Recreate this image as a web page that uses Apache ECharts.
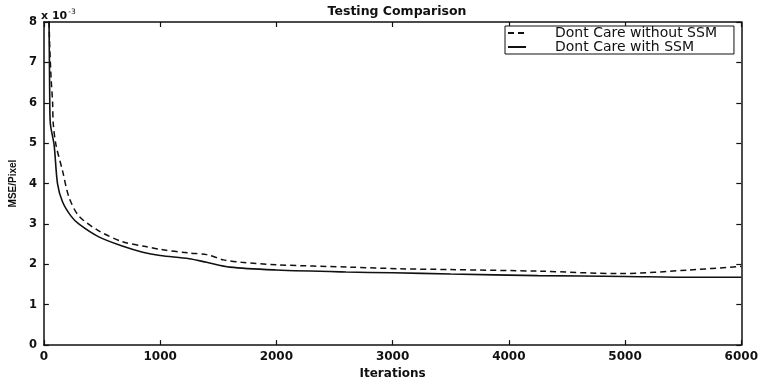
<!DOCTYPE html>
<html>
<head>
<meta charset="utf-8">
<script src="https://cdn.jsdelivr.net/npm/echarts@6/dist/echarts.min.js"></script>
<style>
  html, body { margin: 0; padding: 0; background: #fff; }
  #chart { width: 761px; height: 385px; }
</style>
</head>
<body>
<div id="chart"></div>
<script>
// MSE/Pixel values are in units of 1e-3
const iterWithout = [38, 48, 62, 75, 80, 103, 160, 215, 300, 472, 675, 875, 1000, 1250, 1400, 1545, 1700, 2000, 2635, 3065, 3500, 4266, 4953, 5554, 6000];
const mseWithout = [9.5, 7.6, 6.6, 6.0, 5.5, 4.97, 4.32, 3.67, 3.2, 2.83, 2.56, 2.44, 2.37, 2.28, 2.24, 2.11, 2.05, 1.99, 1.93, 1.89, 1.87, 1.83, 1.77, 1.86, 1.95];

const iterWith = [40, 50, 55, 88, 117, 160, 232, 300, 472, 687, 850, 1000, 1250, 1400, 1600, 2000, 2600, 3000, 3500, 4250, 5000, 5550, 6000];
const mseWith = [9.5, 6.2, 5.5, 4.95, 4.0, 3.55, 3.2, 3.0, 2.68, 2.44, 2.3, 2.22, 2.14, 2.05, 1.93, 1.86, 1.81, 1.79, 1.76, 1.72, 1.70, 1.68, 1.68];

const seriesNames = ['Dont Care without SSM', 'Dont Care with SSM'];

function pairs(xs, ys) {
  return xs.map((x, i) => [x, ys[i]]);
}

const chartDom = document.getElementById('chart');
const myChart = echarts.init(chartDom, null, { renderer: 'canvas' });

const ink = '#111';
const font = 'DejaVu Sans';

const axisCommon = {
  axisLine: { show: true, onZero: false, lineStyle: { color: ink, width: 1.5 } },
  axisTick: { show: true, inside: true, length: 5, lineStyle: { color: ink, width: 1.2 } },
  splitLine: { show: false }
};

const option = {
  animation: false,
  backgroundColor: '#fff',
  title: {
    text: 'Testing Comparison',
    left: 392,
    textAlign: 'center',
    top: 0,
    textStyle: { fontFamily: font, fontWeight: 'bold', fontSize: 12.5, color: ink }
  },
  grid: { left: 43, right: 19, top: 22, bottom: 31 },
  legend: {
    orient: 'vertical',
    left: 505,
    top: 26,
    padding: [0, 17, 0, 2],
    itemWidth: 18,
    itemHeight: 10,
    itemGap: 0,
    borderColor: ink,
    borderWidth: 1,
    backgroundColor: '#fff',
    itemStyle: { opacity: 0 },
    textStyle: { fontFamily: font, fontSize: 14, lineHeight: 12, height: 12, color: ink, padding: [0, 0, 0, 24] },
    data: seriesNames
  },
  xAxis: [
    Object.assign({
      type: 'value',
      min: 0,
      max: 6000,
      interval: 1000,
      position: 'bottom',
      name: 'Iterations',
      nameLocation: 'middle',
      nameGap: 19,
      nameTextStyle: { fontFamily: font, fontWeight: 'bold', fontSize: 12, color: ink },
      axisLabel: { fontFamily: font, fontWeight: 'bold', fontSize: 12, color: ink, margin: 6, formatter: v => String(v) }
    }, axisCommon),
    Object.assign({
      type: 'value',
      min: 0,
      max: 6000,
      interval: 1000,
      position: 'top',
      axisLabel: { show: false }
    }, axisCommon)
  ],
  yAxis: [
    Object.assign({
      type: 'value',
      min: 0,
      max: 8,
      interval: 1,
      position: 'left',
      name: 'MSE/Pixel',
      nameLocation: 'middle',
      nameGap: 25,
      nameTextStyle: { fontFamily: 'Liberation Sans', fontWeight: 'bold', fontSize: 10, color: ink },
      axisLabel: { fontFamily: font, fontWeight: 'bold', fontSize: 11.5, color: ink, margin: 7 }
    }, axisCommon),
    Object.assign({
      type: 'value',
      min: 0,
      max: 8,
      interval: 1,
      position: 'right',
      axisLabel: { show: false }
    }, axisCommon)
  ],
  graphic: [
    {
      type: 'text',
      left: 41,
      top: 8,
      style: {
        text: '{b|x 10}{s|-3}',
        rich: {
          b: { fontFamily: font, fontWeight: 'bold', fontSize: 11, fill: ink, verticalAlign: 'bottom' },
          s: { fontFamily: font, fontSize: 7.5, fill: ink, verticalAlign: 'top', padding: [0, 0, 6, 1] }
        }
      }
    }
  ],
  series: [
    {
      name: seriesNames[0],
      type: 'line',
      data: pairs(iterWithout, mseWithout),
      showSymbol: false,
      symbol: 'none',
      smooth: 0.3,
      clip: true,
      lineStyle: { color: ink, width: 1.5, type: [6, 4] },
      itemStyle: { color: ink }
    },
    {
      name: seriesNames[1],
      type: 'line',
      data: pairs(iterWith, mseWith),
      showSymbol: false,
      symbol: 'none',
      smooth: 0.3,
      clip: true,
      lineStyle: { color: ink, width: 1.6, type: 'solid' },
      itemStyle: { color: ink }
    }
  ]
};

option && myChart.setOption(option);
</script>
</body>
</html>
